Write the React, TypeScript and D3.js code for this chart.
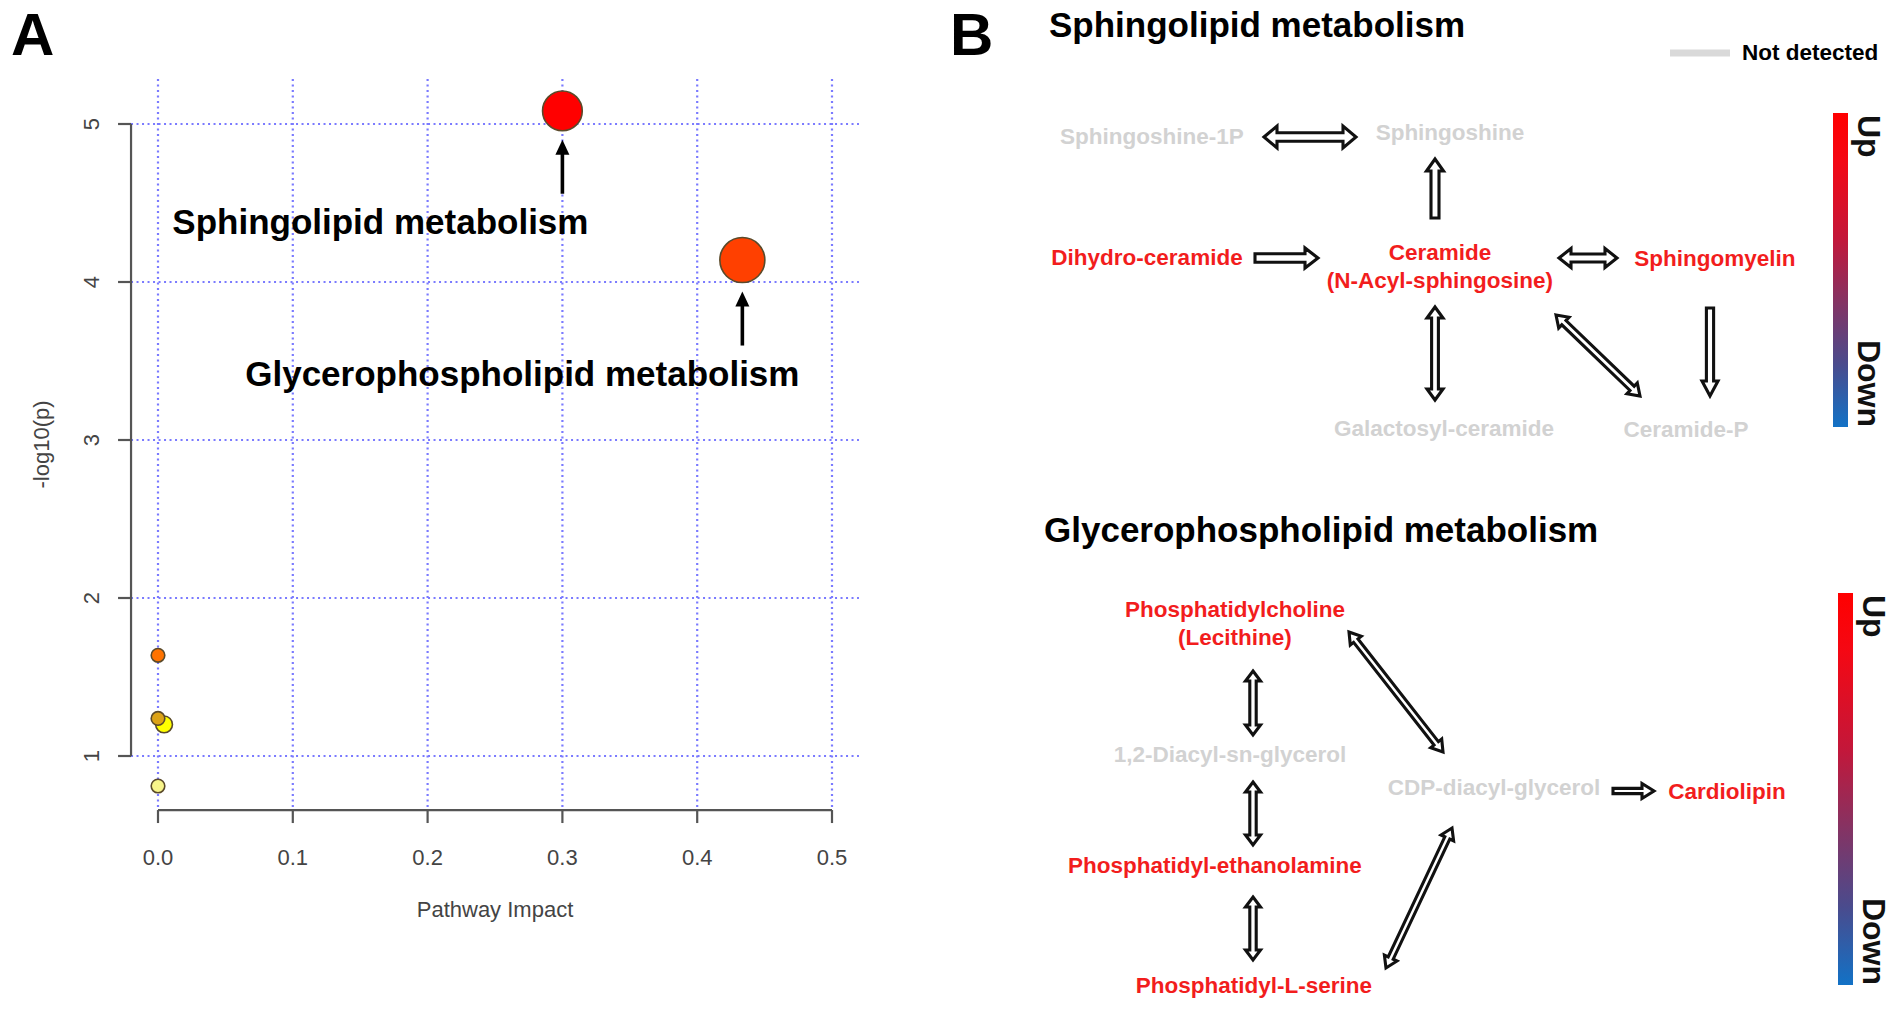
import React from "react";
import { scaleLinear, scaleSqrt, scaleOrdinal } from "d3";

// ---- Panel A: pathway analysis bubble plot ----
const impactTicks = [0, 0.1, 0.2, 0.3, 0.4, 0.5];
const logPTicks = [1, 2, 3, 4, 5];

const pathwayNames = [
  "Sphingolipid metabolism",
  "Glycerophospholipid metabolism",
  "Pathway 3",
  "Pathway 4",
  "Pathway 5",
  "Pathway 6",
];
const pathwayImpact = [0.3, 0.4335, 0.0, 0.0, 0.0045, 0.0];
const pathwayLogP = [5.083, 4.139, 1.637, 1.238, 1.2, 0.81];
const labelledPathways = ["Sphingolipid metabolism", "Glycerophospholipid metabolism"];

// ---- Panel B: pathway maps ----
const sphingoNames = [
  "Sphingoshine-1P",
  "Sphingoshine",
  "Dihydro-ceramide",
  "Ceramide|(N-Acyl-sphingosine)",
  "Sphingomyelin",
  "Galactosyl-ceramide",
  "Ceramide-P",
];
const sphingoStatus = ["nd", "nd", "up", "up", "up", "nd", "nd"];
const sphingoEdges: [number, number, "both" | "one"][] = [
  [0, 1, "both"],
  [3, 1, "one"],
  [2, 3, "one"],
  [3, 4, "both"],
  [3, 5, "both"],
  [3, 6, "both"],
  [4, 6, "one"],
];

const glyceroNames = [
  "Phosphatidylcholine|(Lecithine)",
  "1,2-Diacyl-sn-glycerol",
  "Phosphatidyl-ethanolamine",
  "Phosphatidyl-L-serine",
  "CDP-diacyl-glycerol",
  "Cardiolipin",
];
const glyceroStatus = ["up", "nd", "up", "up", "nd", "up"];
const glyceroEdges: [number, number, "both" | "one"][] = [
  [0, 1, "both"],
  [1, 2, "both"],
  [2, 3, "both"],
  [0, 4, "both"],
  [4, 5, "one"],
  [3, 4, "both"],
];

// layout (pixel positions of labels and arrow end points)
const sphingoLabelPos = [
  [1152, 136], [1450, 132], [1147, 257], [1440, 252], [1715, 258], [1444, 428], [1686, 429],
];
const sphingoArrowPos = [
  { a: [1264, 137], b: [1356, 137], w: 4.2, hw: 11, hl: 13 },
  { a: [1435, 218], b: [1435, 159], w: 4.0, hw: 8.5, hl: 12 },
  { a: [1255, 258], b: [1318, 258], w: 4.2, hw: 10, hl: 13 },
  { a: [1559, 258], b: [1617, 258], w: 4.0, hw: 9.5, hl: 12 },
  { a: [1435, 307], b: [1435, 400], w: 3.4, hw: 8, hl: 11 },
  { a: [1556, 315], b: [1640, 396], w: 3.0, hw: 7.5, hl: 11 },
  { a: [1710, 308], b: [1710, 396], w: 3.6, hw: 8, hl: 15 },
];
const glyceroLabelPos = [
  [1235, 609], [1230, 754], [1215, 865], [1254, 985], [1494, 787], [1727, 791],
];
const glyceroArrowPos = [
  { a: [1253, 671], b: [1253, 735], w: 3.2, hw: 7.5, hl: 10 },
  { a: [1253, 782], b: [1253, 845], w: 3.2, hw: 7.5, hl: 10 },
  { a: [1253, 897], b: [1253, 960], w: 3.2, hw: 7.5, hl: 10 },
  { a: [1349, 632], b: [1443, 752], w: 2.8, hw: 7, hl: 11 },
  { a: [1613, 791], b: [1654, 791], w: 2.6, hw: 7.5, hl: 12 },
  { a: [1386, 968], b: [1452, 828], w: 2.8, hw: 7, hl: 11 },
];

const FONT = "'Liberation Sans', Arial, Helvetica, sans-serif";
const heatPalette = ["#ff0000", "#ff4000", "#ff7300", "#dca317", "#ffff00", "#f8f48a"];
const statusColor = { up: "#f21d1d", nd: "#d2d2d2" };

function arrowPolygon(
  a: number[],
  b: number[],
  kind: "both" | "one",
  w: number,
  hw: number,
  hl: number,
) {
  const dx = b[0] - a[0];
  const dy = b[1] - a[1];
  const L = Math.hypot(dx, dy);
  const ux = dx / L;
  const uy = dy / L;
  const pt = (s: number, t: number) => [a[0] + ux * s - uy * t, a[1] + uy * s + ux * t];
  const local =
    kind === "both"
      ? [
          [0, 0], [hl, -hw], [hl, -w], [L - hl, -w], [L - hl, -hw], [L, 0],
          [L - hl, hw], [L - hl, w], [hl, w], [hl, hw],
        ]
      : [
          [0, -w], [L - hl, -w], [L - hl, -hw], [L, 0], [L - hl, hw], [L - hl, w], [0, w],
        ];
  return local.map(([s, t]) => pt(s, t).map((v) => v.toFixed(1)).join(",")).join(" ");
}

function PathwayMap({
  names,
  status,
  edges,
  labelPos,
  arrowPos,
}: {
  names: string[];
  status: string[];
  edges: [number, number, "both" | "one"][];
  labelPos: number[][];
  arrowPos: { a: number[]; b: number[]; w: number; hw: number; hl: number }[];
}) {
  return (
    <g>
      {edges.map(([from, to, kind], i) => {
        const p = arrowPos[i];
        return (
          <polygon
            key={`${from}-${to}`}
            points={arrowPolygon(p.a, p.b, kind, p.w, p.hw, p.hl)}
            fill="#ffffff"
            stroke="#111111"
            strokeWidth={3.1}
            strokeLinejoin="miter"
          />
        );
      })}
      {names.map((name, i) => {
        const lines = name.split("|");
        const [cx, cy] = labelPos[i];
        return (
          <text
            key={name}
            x={cx}
            y={cy + 8}
            textAnchor="middle"
            fontFamily={FONT}
            fontWeight="bold"
            fontSize={22.5}
            fill={statusColor[status[i] as "up" | "nd"]}
          >
            {lines.map((ln, j) => (
              <tspan key={ln} x={cx} dy={j === 0 ? 0 : 28}>
                {ln}
              </tspan>
            ))}
          </text>
        );
      })}
    </g>
  );
}

function ColorBar({ id, x, y0, y1, textX }: { id: string; x: number; y0: number; y1: number; textX: number }) {
  return (
    <g>
      <rect x={x} y={y0} width={15} height={y1 - y0} fill={`url(#${id})`} />
      <text
        transform={`translate(${textX},${y0 + 2}) rotate(90)`}
        fontFamily={FONT}
        fontWeight="bold"
        fontSize={32}
        fill="#111"
      >
        Up
      </text>
      <text
        transform={`translate(${textX},${y1}) rotate(90)`}
        textAnchor="end"
        fontFamily={FONT}
        fontWeight="bold"
        fontSize={32}
        fill="#111"
      >
        Down
      </text>
    </g>
  );
}

export default function App() {
  const width = 1902;
  const height = 1009;

  const x = scaleLinear().domain([0, 0.5]).range([158, 832]);
  const y = scaleLinear().domain([1, 5]).range([756, 124]);
  const [plotLeft, plotRight] = [x(-0.02), x(0.52)];
  const [plotBottom, plotTop] = [y(0.658), y(5.285)];
  const r = scaleSqrt().domain([0, 0.4335]).range([6.8, 22.5]);
  const color = scaleOrdinal<string, string>().domain(pathwayNames).range(heatPalette);

  const annotations = [
    { dx: -182, dy: 123 },
    { dx: -220, dy: 126 },
  ];

  const gradStops = [
    [0, "#ff0000"],
    [0.15, "#f40814"],
    [0.4, "#c3173a"],
    [0.6, "#853363"],
    [0.8, "#4a4b8d"],
    [1, "#1272c6"],
  ];

  return (
    <div style={{ position: "absolute", left: 0, top: 0, width, height, background: "#fff" }}>
      <svg width={width} height={height} viewBox={`0 0 ${width} ${height}`}>
        <defs>
          {["cbar1", "cbar2"].map((id) => (
            <linearGradient key={id} id={id} x1="0" y1="0" x2="0" y2="1">
              {gradStops.map(([o, c]) => (
                <stop key={String(o)} offset={o as number} stopColor={c as string} />
              ))}
            </linearGradient>
          ))}
        </defs>

        {/* Panel letters */}
        <text x={11} y={55} fontFamily={FONT} fontWeight="bold" fontSize={60} fill="#000">
          A
        </text>
        <text x={950} y={55} fontFamily={FONT} fontWeight="bold" fontSize={60} fill="#000">
          B
        </text>

        {/* Grid */}
        {impactTicks.map((t) => (
          <line
            key={`gx${t}`}
            x1={x(t)}
            x2={x(t)}
            y1={plotTop}
            y2={plotBottom}
            stroke="#7a7aff"
            strokeWidth={2.2}
            strokeDasharray="2 3.5"
          />
        ))}
        {logPTicks.map((t) => (
          <line
            key={`gy${t}`}
            x1={plotLeft}
            x2={plotRight}
            y1={y(t)}
            y2={y(t)}
            stroke="#7a7aff"
            strokeWidth={2.2}
            strokeDasharray="2 3.5"
          />
        ))}

        {/* Axes */}
        <line x1={plotLeft} x2={plotLeft} y1={y(1)} y2={y(5)} stroke="#555" strokeWidth={2.2} />
        {logPTicks.map((t) => (
          <g key={`ty${t}`}>
            <line x1={plotLeft - 13} x2={plotLeft} y1={y(t)} y2={y(t)} stroke="#555" strokeWidth={2.2} />
            <text
              transform={`translate(${plotLeft - 32},${y(t)}) rotate(-90)`}
              textAnchor="middle"
              fontFamily={FONT}
              fontSize={22}
              fill="#444"
            >
              {t}
            </text>
          </g>
        ))}
        <line x1={x(0)} x2={x(0.5)} y1={plotBottom} y2={plotBottom} stroke="#555" strokeWidth={2.2} />
        {impactTicks.map((t) => (
          <g key={`tx${t}`}>
            <line x1={x(t)} x2={x(t)} y1={plotBottom} y2={plotBottom + 13} stroke="#555" strokeWidth={2.2} />
            <text x={x(t)} y={865} textAnchor="middle" fontFamily={FONT} fontSize={22} fill="#444">
              {t.toFixed(1)}
            </text>
          </g>
        ))}
        <text x={(plotLeft + plotRight) / 2} y={917} textAnchor="middle" fontFamily={FONT} fontSize={22} fill="#444">
          Pathway Impact
        </text>
        <text
          transform={`translate(49,${(plotTop + plotBottom) / 2}) rotate(-90)`}
          textAnchor="middle"
          fontFamily={FONT}
          fontSize={22}
          fill="#444"
        >
          -log10(p)
        </text>

        {/* Bubbles (smaller ones first) */}
        {pathwayNames
          .map((name, i) => ({ name, i }))
          .reverse()
          .map(({ name, i }) => (
            <circle
              key={name}
              cx={x(pathwayImpact[i])}
              cy={y(pathwayLogP[i])}
              r={r(pathwayImpact[i])}
              fill={color(name)}
              stroke="#5a4a2a"
              strokeWidth={1.6}
            />
          ))}

        {/* Annotations */}
        {labelledPathways.map((name, k) => {
          const i = pathwayNames.indexOf(name);
          const cx = x(pathwayImpact[i]);
          const cy = y(pathwayLogP[i]);
          const tip = cy + r(pathwayImpact[i]) + 9;
          const tail = tip + 54;
          return (
            <g key={name}>
              <line x1={cx} x2={cx} y1={tail} y2={tip + 12} stroke="#000" strokeWidth={3.6} />
              <polygon points={`${cx},${tip} ${cx - 7},${tip + 15} ${cx + 7},${tip + 15}`} fill="#000" />
              <text
                x={cx + annotations[k].dx}
                y={cy + annotations[k].dy}
                textAnchor="middle"
                fontFamily={FONT}
                fontWeight="bold"
                fontSize={35}
                fill="#000"
              >
                {name}
              </text>
            </g>
          );
        })}

        {/* Panel B titles and legend */}
        <text x={1049} y={37} fontFamily={FONT} fontWeight="bold" fontSize={35} fill="#000">
          Sphingolipid metabolism
        </text>
        <text x={1044} y={542} fontFamily={FONT} fontWeight="bold" fontSize={35} fill="#000">
          Glycerophospholipid metabolism
        </text>
        <line x1={1670} x2={1730} y1={53} y2={53} stroke="#d9d9d9" strokeWidth={7} />
        <text x={1742} y={60} fontFamily={FONT} fontWeight="bold" fontSize={22.5} fill="#000">
          Not detected
        </text>

        <PathwayMap
          names={sphingoNames}
          status={sphingoStatus}
          edges={sphingoEdges}
          labelPos={sphingoLabelPos}
          arrowPos={sphingoArrowPos}
        />
        <PathwayMap
          names={glyceroNames}
          status={glyceroStatus}
          edges={glyceroEdges}
          labelPos={glyceroLabelPos}
          arrowPos={glyceroArrowPos}
        />

        <ColorBar id="cbar1" x={1833} y0={113} y1={427} textX={1858} />
        <ColorBar id="cbar2" x={1838} y0={593} y1={985} textX={1863} />
      </svg>
    </div>
  );
}
